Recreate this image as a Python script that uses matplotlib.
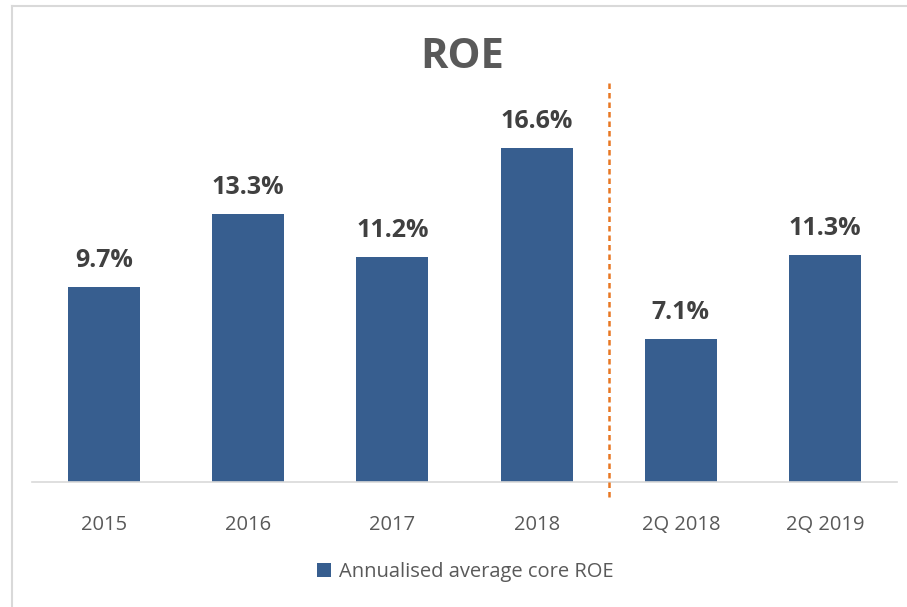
import matplotlib.pyplot as plt

# ROE chart data
categories = ['2015', '2016', '2017', '2018', '2Q 2018', '2Q 2019']
roe_values = [9.7, 13.3, 11.2, 16.6, 7.1, 11.3]
value_labels = ['9.7%', '13.3%', '11.2%', '16.6%', '7.1%', '11.3%']
legend_label = 'Annualised average core ROE'

plt.rcParams['font.family'] = ['Open Sans', 'DejaVu Sans']

fig = plt.figure(figsize=(9.07, 6.07), dpi=100)
ax = fig.add_axes([32 / 907, 125 / 607, 865 / 907, 402.4 / 607])

x = list(range(len(categories)))
bars = ax.bar(x, roe_values, width=0.5, color='#375E8F', label=legend_label, zorder=2)

for xi, v, lab in zip(x, roe_values, value_labels):
    ax.text(xi, v + 0.7, lab, ha='center', va='bottom', fontsize=18,
            fontweight='bold', color='#404040')

# dashed separator between annual and quarterly figures
ax.plot([3.5, 3.5], [-0.75, 19.9], linestyle=(0, (2.2, 1.6)), color='#E87722',
        linewidth=1.8, clip_on=False, zorder=3)

ax.set_xlim(-0.5, 5.5)
ax.set_ylim(0, 20)
ax.set_xticks(x)
ax.set_xticklabels(categories, fontsize=14.5, color='#595959')
ax.tick_params(axis='x', length=0, pad=24)
ax.set_yticks([])
for side in ['top', 'right', 'left']:
    ax.spines[side].set_visible(False)
ax.spines['bottom'].set_color('#D9D9D9')
ax.spines['bottom'].set_linewidth(1.2)

fig.text(462 / 907, 1 - 58 / 607, 'ROE', ha='center', va='center', fontsize=30,
         fontweight='bold', color='#595959')

leg = fig.legend(handles=[bars], labels=[legend_label], loc='center',
                 bbox_to_anchor=(465 / 907, 1 - 572 / 607), frameon=False,
                 fontsize=14.5, handlelength=0.7, handleheight=0.7, handletextpad=0.4)
for t in leg.get_texts():
    t.set_color('#595959')

# partial frame (left and top edges visible)
fig.add_artist(plt.Line2D([11.5 / 907, 11.5 / 907], [0, 1 - 5.5 / 607],
                          transform=fig.transFigure, color='#D9D9D9', linewidth=1.5))
fig.add_artist(plt.Line2D([11.5 / 907, 1], [1 - 5.5 / 607, 1 - 5.5 / 607],
                          transform=fig.transFigure, color='#D9D9D9', linewidth=1.5))

fig.savefig('out.png', dpi=100)
